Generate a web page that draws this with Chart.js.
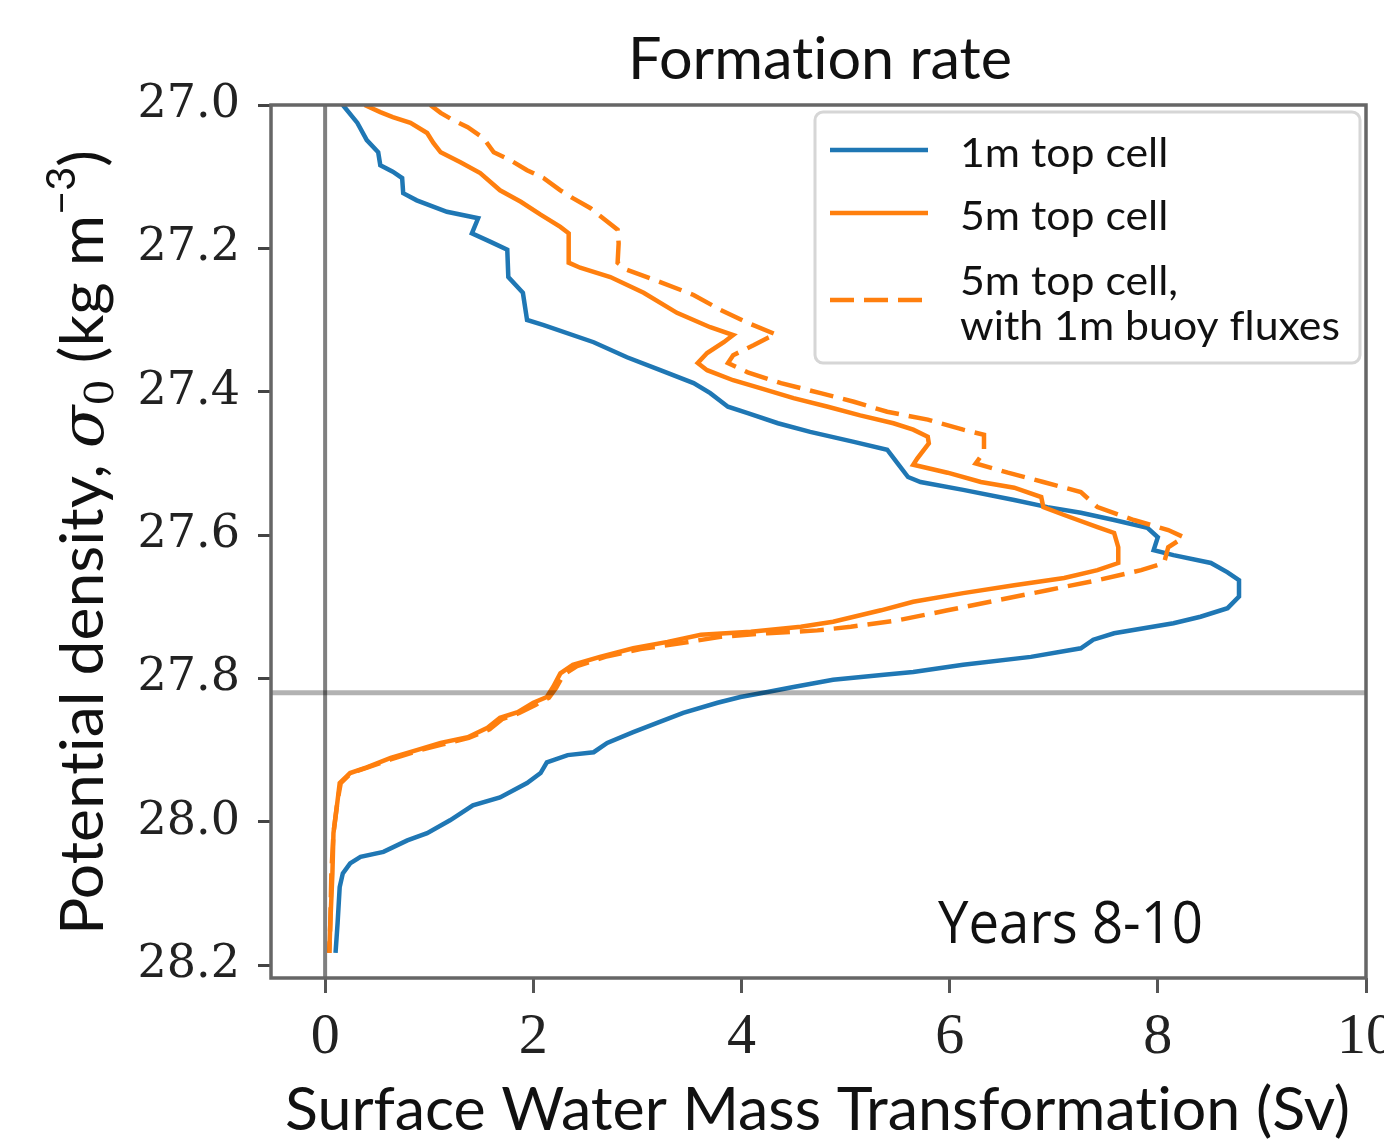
<!DOCTYPE html>
<html>
<head>
<meta charset="utf-8">
<script src="https://cdn.jsdelivr.net/npm/chart.js@4.4.0/dist/chart.umd.min.js"></script>
<style>
  html, body { margin: 0; padding: 0; background: #fff; }
  canvas { display: block; }
</style>
</head>
<body>
<canvas id="chart" width="1384" height="1148"></canvas>
<script>
// series labels
const SERIES_LABELS = ["1m top cell", "5m top cell", "5m top cell,\nwith 1m buoy fluxes"];

// 1m top cell: transformation (Sv) vs density
const SV_1M = [0.17,0.31,0.40,0.51,0.53,0.65,0.74,0.75,0.88,1.17,1.47,1.41,1.59,1.75,1.76,1.90,1.94,2.10,2.58,2.90,
  3.22,3.54,3.70,3.87,4.06,4.35,4.66,5.08,5.40,5.50,5.60,5.72,6.13,6.62,6.94,7.26,7.58,7.90,8.00,7.96,
  8.15,8.51,8.67,8.78,8.78,8.67,8.41,8.15,7.58,7.38,7.26,6.78,6.13,5.65,5.37,4.88,4.50,4.25,3.99,3.77,
  3.44,3.19,2.96,2.71,2.58,2.33,2.13,2.07,1.94,1.68,1.42,1.20,0.98,0.79,0.56,0.34,0.24,0.17,0.14,0.12,0.10];
const SIG_1M = [27.000,27.025,27.049,27.066,27.084,27.093,27.102,27.123,27.133,27.149,27.158,27.179,27.191,27.202,27.240,27.262,27.300,27.307,27.331,27.352,
  27.370,27.388,27.402,27.421,27.430,27.444,27.456,27.470,27.481,27.500,27.519,27.526,27.537,27.551,27.561,27.569,27.579,27.590,27.603,27.621,
  27.628,27.639,27.652,27.663,27.686,27.702,27.714,27.723,27.737,27.746,27.758,27.770,27.781,27.791,27.795,27.802,27.812,27.819,27.826,27.834,
  27.848,27.862,27.875,27.890,27.903,27.907,27.917,27.932,27.946,27.966,27.977,27.998,28.016,28.026,28.042,28.049,28.058,28.072,28.091,28.141,28.183];

// 5m top cell
const SV_5M = [0.38,0.53,0.65,0.82,0.98,1.04,1.11,1.30,1.49,1.68,1.88,2.07,2.26,2.34,2.34,2.45,2.74,3.06,3.38,3.70,
  3.92,3.83,3.67,3.58,3.67,3.92,4.18,4.50,4.83,5.14,5.46,5.65,5.79,5.80,5.69,5.65,5.98,6.30,6.62,6.88,
  6.90,7.10,7.42,7.58,7.62,7.62,7.42,7.10,6.62,6.13,5.65,5.34,4.88,4.57,4.09,3.61,3.29,2.96,2.64,2.38,
  2.26,2.19,2.13,2.00,1.85,1.68,1.56,1.37,1.11,0.88,0.63,0.40,0.24,0.14,0.12,0.08,0.07,0.05,0.04];
const SIG_5M = [27.000,27.010,27.017,27.025,27.039,27.053,27.066,27.080,27.095,27.119,27.135,27.153,27.170,27.179,27.220,27.227,27.240,27.262,27.290,27.310,
  27.321,27.331,27.346,27.360,27.370,27.384,27.395,27.409,27.421,27.433,27.444,27.453,27.463,27.472,27.493,27.502,27.513,27.526,27.534,27.547,
  27.561,27.572,27.589,27.597,27.617,27.639,27.649,27.660,27.670,27.681,27.693,27.705,27.721,27.728,27.735,27.739,27.749,27.758,27.770,27.781,
  27.793,27.812,27.826,27.834,27.847,27.855,27.869,27.882,27.890,27.900,27.911,27.924,27.932,27.946,27.970,28.016,28.072,28.141,28.183];

// 5m top cell with 1m buoy fluxes
const SV_5M_BUOY = [1.01,1.11,1.23,1.37,1.52,1.62,1.78,1.94,2.10,2.26,2.38,2.55,2.67,2.81,2.82,2.81,2.90,3.22,3.54,3.80,
  4.06,4.33,4.25,4.12,3.92,3.87,4.06,4.38,4.76,5.08,5.40,5.79,6.13,6.33,6.33,6.25,6.56,6.90,7.26,7.42,
  7.77,8.10,8.25,8.10,8.06,7.84,7.42,6.94,6.46,5.98,5.50,5.05,4.73,4.25,3.80,3.41,3.03,2.69,2.42,2.29,
  2.22,2.15,2.02,1.87,1.70,1.58,1.38,1.13,0.89,0.63,0.41,0.25,0.15,0.12,0.08,0.06,0.05,0.04];
const SIG_5M_BUOY = [27.000,27.011,27.021,27.031,27.046,27.066,27.077,27.091,27.102,27.119,27.130,27.144,27.158,27.174,27.193,27.220,27.230,27.247,27.265,27.286,
  27.304,27.320,27.325,27.335,27.349,27.360,27.373,27.388,27.402,27.414,27.428,27.439,27.453,27.460,27.484,27.500,27.513,27.526,27.540,27.561,
  27.579,27.593,27.603,27.617,27.639,27.649,27.663,27.677,27.691,27.705,27.719,27.728,27.733,27.737,27.742,27.751,27.759,27.770,27.783,27.795,
  27.813,27.827,27.837,27.848,27.857,27.871,27.883,27.892,27.901,27.913,27.924,27.932,27.946,27.970,28.016,28.072,28.141,28.183];

// axes
const X_TICKS = [0, 2, 4, 6, 8, 10];
const Y_TICKS = [27.0, 27.2, 27.4, 27.6, 27.8, 28.0, 28.2];
const X_MIN = -0.52, X_MAX = 10;
const Y_MIN = 27.0, Y_MAX = 28.218;

// reference lines
const REF_SV = 0;
const REF_SIGMA = 27.82;

const BLUE = "#1f77b4";
const ORANGE = "#ff7f0e";
const ZWNJ = "\u200c"; // keeps Lato from joining "ti"

function pts(xs, ys) {
    const n = Math.min(xs.length, ys.length);
    const out = [];
    for (let i = 0; i < n; i++) out.push({ x: xs[i], y: ys[i] });
    return out;
}

function noLig(s) {
    return s.replace(/ti/g, "t" + ZWNJ + "i").replace(/fl/g, "f" + ZWNJ + "l");
}

// draw text squeezed / stretched horizontally to a given width
function fitText(ctx, text, font, x, y, width, align) {
    ctx.save();
    ctx.font = font;
    const w = ctx.measureText(text).width;
    ctx.translate(x, y);
    ctx.scale(width / w, 1);
    ctx.textAlign = align || "left";
    ctx.textBaseline = "alphabetic";
    ctx.fillText(text, 0, 0);
    ctx.restore();
}

// rich text along a baseline (pieces with own font and vertical shift)
function richText(ctx, pieces, width) {
    let total = 0;
    pieces.forEach(p => { ctx.font = p.font; p.w = ctx.measureText(p.t).width; total += p.w; });
    const sx = width / total;
    ctx.save();
    ctx.scale(sx, 1);
    let cx = 0;
    pieces.forEach(p => {
        ctx.font = p.font;
        ctx.fillText(p.t, cx, p.dy || 0);
        cx += p.w;
    });
    ctx.restore();
}

const decorations = {
    id: "decorations",
    afterDatasetsDraw(chart) {
        const ctx = chart.ctx;
        const a = chart.chartArea;
        const xs = chart.scales.x, ys = chart.scales.y;
        ctx.save();
        // reference lines
        const px0 = xs.getPixelForValue(REF_SV);
        ctx.strokeStyle = "rgba(0,0,0,0.5)";
        ctx.lineWidth = 4;
        ctx.beginPath(); ctx.moveTo(px0, a.top); ctx.lineTo(px0, a.bottom); ctx.stroke();
        const py0 = ys.getPixelForValue(REF_SIGMA);
        ctx.strokeStyle = "rgba(0,0,0,0.3)";
        ctx.lineWidth = 5;
        ctx.beginPath(); ctx.moveTo(a.left, py0); ctx.lineTo(a.right, py0); ctx.stroke();
        // frame
        ctx.strokeStyle = "#666";
        ctx.lineWidth = 3.5;
        ctx.strokeRect(a.left, a.top, a.right - a.left, a.bottom - a.top);
        ctx.restore();
    },
    afterDraw(chart) {
        const ctx = chart.ctx;
        ctx.save();
        ctx.fillStyle = "#111";
        // title
        fitText(ctx, noLig("Formation rate"), "58px Lato", 628, 79, 384, "left");
        // x label
        fitText(ctx, noLig("Surface Water Mass Transformation (Sv)"), "60px Lato", 285, 1130, 1065, "left");
        // annotation
        fitText(ctx, "Years 8-10", "58px 'Open Sans'", 938, 943, 265, "left");

        // y label, rotated
        ctx.save();
        ctx.translate(103, 935);
        ctx.rotate(-Math.PI / 2);
        ctx.textBaseline = "alphabetic";
        richText(ctx, [
            { t: noLig("Potential density, "), font: "60px Lato" },
            { t: "\u03c3", font: "italic 60px 'DejaVu Serif'" },
            { t: "0", font: "40px 'DejaVu Serif'", dy: 10 },
            { t: " (kg m", font: "60px Lato" },
            { t: "\u22123", font: "40px Lato", dy: -28 },
            { t: ")", font: "60px Lato" }
        ], 785);
        ctx.restore();

        // legend
        const lx = 815, ly = 112, lw = 545, lh = 251;
        ctx.beginPath();
        ctx.roundRect(lx, ly, lw, lh, 8);
        ctx.fillStyle = "rgba(255,255,255,0.8)";
        ctx.fill();
        ctx.strokeStyle = "#d6d6d6";
        ctx.lineWidth = 3;
        ctx.stroke();

        const rowLine = [150, 213, 300];
        const rowText = [[167], [230], [295, 340]];
        ctx.font = "40px Lato";
        const sx = 380 / ctx.measureText(noLig("with 1m buoy fluxes")).width;
        chart.data.datasets.forEach((ds, i) => {
            ctx.save();
            ctx.strokeStyle = ds.borderColor;
            ctx.lineWidth = ds.borderWidth;
            ctx.setLineDash(ds.borderDash || []);
            ctx.beginPath(); ctx.moveTo(830, rowLine[i]); ctx.lineTo(928, rowLine[i]); ctx.stroke();
            ctx.restore();
            ds.label.split("\n").forEach((line, k) => {
                ctx.save();
                ctx.fillStyle = "#111";
                ctx.font = "40px Lato";
                ctx.translate(960, rowText[i][k]);
                ctx.scale(sx, 1);
                ctx.fillText(noLig(line), 0, 0);
                ctx.restore();
            });
        });
        ctx.restore();
    }
};

const ctx = document.getElementById("chart").getContext("2d");
const chart = new Chart(ctx, {
    type: "scatter",
    data: {
        datasets: [
            { label: SERIES_LABELS[0], data: pts(SV_1M, SIG_1M), borderColor: BLUE, borderWidth: 4.5, showLine: true, pointRadius: 0, order: 2 },
            { label: SERIES_LABELS[1], data: pts(SV_5M, SIG_5M), borderColor: ORANGE, borderWidth: 4.5, showLine: true, pointRadius: 0, order: 1 },
            { label: SERIES_LABELS[2], data: pts(SV_5M_BUOY, SIG_5M_BUOY), borderColor: ORANGE, borderWidth: 4.5, borderDash: [24, 10], showLine: true, pointRadius: 0, order: 0 }
        ]
    },
    options: {
        responsive: false,
        animation: false,
        devicePixelRatio: 1,
        layout: { padding: { left: 0, right: 18, top: 105, bottom: 0 } },
        plugins: { legend: { display: false }, tooltip: { enabled: false } },
        scales: {
            x: {
                type: "linear",
                min: X_MIN,
                max: X_MAX,
                afterBuildTicks: s => { s.ticks = X_TICKS.map(v => ({ value: v })); },
                afterFit: s => { s.height = 170; s.paddingLeft = 0; s.paddingRight = 0; },
                grid: { display: true, drawOnChartArea: false, drawTicks: true, tickLength: 15, tickWidth: 3, tickColor: "#555" },
                border: { display: false },
                ticks: {
                    font: { family: "Liberation Serif", size: 58 },
                    color: "#222",
                    padding: 10,
                    maxRotation: 0,
                    autoSkip: false,
                    callback: v => String(v)
                }
            },
            y: {
                type: "linear",
                reverse: true,
                min: Y_MIN,
                max: Y_MAX,
                afterBuildTicks: s => { s.ticks = Y_TICKS.map(v => ({ value: v })); },
                afterFit: s => { s.width = 271; s.paddingTop = 0; s.paddingBottom = 0; },
                grid: { display: true, drawOnChartArea: false, drawTicks: true, tickLength: 13, tickWidth: 3, tickColor: "#444" },
                border: { display: false },
                ticks: {
                    font: { family: "DejaVu Serif", size: 46 },
                    color: "#222",
                    padding: 18,
                    autoSkip: false,
                    callback: v => v.toFixed(1)
                }
            }
        }
    },
    plugins: [decorations]
});
</script>
</body>
</html>
